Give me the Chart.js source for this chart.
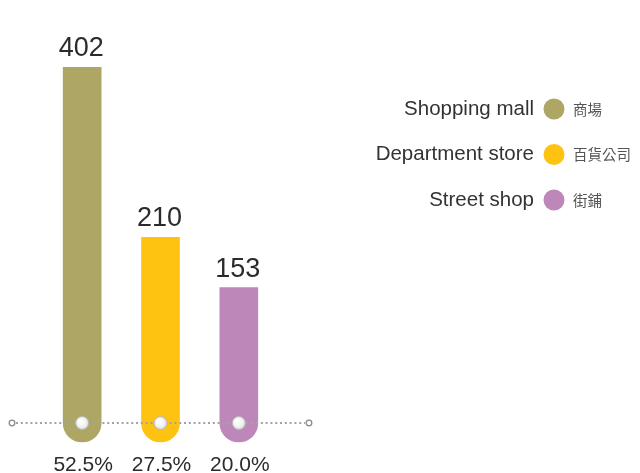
<!DOCTYPE html>
<html>
<head>
<meta charset="utf-8">
<script src="https://cdn.jsdelivr.net/npm/chart.js@4"></script>
<style>
html,body{margin:0;padding:0;background:#fff;}
canvas{display:block;}
</style>
</head>
<body>
<canvas id="c" width="640" height="473"></canvas>
<script>
const categories = ['Shopping mall', 'Department store', 'Street shop'];
const categoriesZh = ['商場', '百貨公司', '街鋪'];
const values = [402, 210, 153];
const percentLabels = ['52.5%', '27.5%', '20.0%'];
const colors = ['#ADA664', '#FEC211', '#BE87BA'];

const FONT = '"Liberation Sans", Arial, Helvetica, sans-serif';
const CJK = '"Noto Sans CJK TC", "Noto Sans CJK SC", sans-serif';

const decorPlugin = {
  id: 'decor',
  afterDatasetsDraw(chart) {
    const ctx = chart.ctx;
    const meta = chart.getDatasetMeta(0);
    const y0 = chart.scales.y.getPixelForValue(0);
    const area = chart.chartArea;
    const xl = area.left - 31, xr = area.right + 31;
    ctx.save();
    // dotted baseline
    ctx.strokeStyle = '#a3a3a3';
    ctx.lineWidth = 2;
    ctx.setLineDash([2, 2.8]);
    ctx.beginPath();
    ctx.moveTo(xl + 4, y0);
    ctx.lineTo(xr - 4, y0);
    ctx.stroke();
    ctx.setLineDash([]);
    // end markers
    ctx.lineWidth = 1.3;
    [xl, xr].forEach(x => {
      ctx.beginPath();
      ctx.arc(x, y0, 2.8, 0, Math.PI * 2);
      ctx.fillStyle = '#fff';
      ctx.fill();
      ctx.strokeStyle = '#8a8a8a';
      ctx.stroke();
    });
    // knobs
    meta.data.forEach(bar => {
      const g = ctx.createRadialGradient(bar.x - 2, y0 - 2, 1, bar.x, y0, 7);
      g.addColorStop(0, '#ffffff');
      g.addColorStop(0.6, '#f2f2f2');
      g.addColorStop(1, '#d6d6d6');
      ctx.beginPath();
      ctx.arc(bar.x, y0, 6.5, 0, Math.PI * 2);
      ctx.fillStyle = g;
      ctx.fill();
      ctx.lineWidth = 1;
      ctx.strokeStyle = '#b8b8b8';
      ctx.stroke();
    });
    // value labels & percent labels
    ctx.fillStyle = '#2b2b2b';
    ctx.textAlign = 'center';
    ctx.textBaseline = 'alphabetic';
    meta.data.forEach((bar, i) => {
      ctx.font = '27px ' + FONT;
      ctx.fillText(String(values[i]), bar.x - 1, bar.y - 11);
      ctx.font = '21px ' + FONT;
      ctx.fillText(percentLabels[i], bar.x + 1, y0 + 48);
    });
    // legend
    const lx = 554, ly0 = 109, step = 45.5;
    categories.forEach((name, i) => {
      const y = ly0 + i * step;
      ctx.beginPath();
      ctx.arc(lx, y, 10.5, 0, Math.PI * 2);
      ctx.fillStyle = colors[i];
      ctx.fill();
      ctx.fillStyle = '#333';
      ctx.textAlign = 'right';
      ctx.textBaseline = 'middle';
      ctx.font = '20.5px ' + FONT;
      ctx.fillText(name, lx - 20, y);
      ctx.textAlign = 'left';
      ctx.fillStyle = '#555';
      ctx.font = '14.5px ' + CJK;
      ctx.fillText(categoriesZh[i], lx + 19, y);
    });
    ctx.restore();
  }
};

new Chart(document.getElementById('c'), {
  type: 'bar',
  data: {
    labels: categories,
    datasets: [{
      data: values,
      backgroundColor: colors,
      barThickness: 38,
      base: -21.5,
      borderSkipped: false,
      borderWidth: 0,
      borderRadius: { topLeft: 0, topRight: 0, bottomLeft: 19, bottomRight: 19 },
      clip: false
    }]
  },
  options: {
    responsive: false,
    animation: false,
    devicePixelRatio: 1,
    layout: { padding: { left: 43, right: 362, top: 25, bottom: 50 } },
    plugins: { legend: { display: false }, tooltip: { enabled: false } },
    scales: {
      x: { display: false },
      y: { display: false, min: 0, max: 450 }
    }
  },
  plugins: [decorPlugin]
});
</script>
</body>
</html>
